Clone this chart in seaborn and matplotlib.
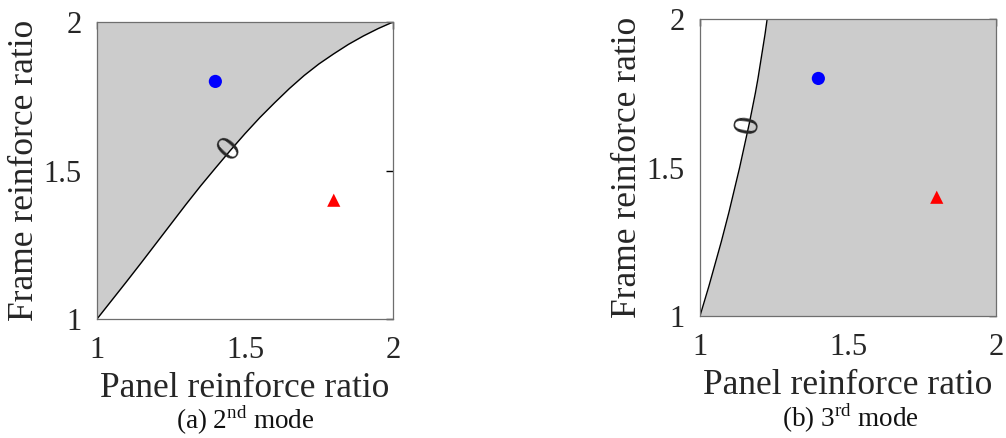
import numpy as np
import pandas as pd
import matplotlib
matplotlib.use("Agg")
import matplotlib.pyplot as plt
import seaborn as sns

# --- data ---
# (a) 2nd mode: boundary curve y(x), shaded above it
panel_a = [1.0, 1.05, 1.1, 1.15, 1.2, 1.25, 1.3, 1.35, 1.4, 1.45, 1.5,
           1.55, 1.6, 1.65, 1.7, 1.75, 1.8, 1.85, 1.9, 1.95, 2.0]
frame_a = [1.0, 1.063, 1.126, 1.19, 1.255, 1.32, 1.385, 1.448, 1.508, 1.567, 1.624,
           1.678, 1.728, 1.776, 1.82, 1.859, 1.893, 1.925, 1.953, 1.978, 2.0]

# (b) 3rd mode: boundary curve x(y), shaded to the right of it
frame_b = [1.0, 1.05, 1.1, 1.15, 1.2, 1.25, 1.3, 1.35, 1.4, 1.45, 1.5,
           1.55, 1.6, 1.65, 1.7, 1.75, 1.8, 1.85, 1.9, 1.95, 2.0]
panel_b = [1.0, 1.015, 1.030, 1.044, 1.058, 1.072, 1.085, 1.098, 1.110, 1.122, 1.134,
           1.145, 1.156, 1.167, 1.177, 1.187, 1.196, 1.204, 1.212, 1.220, 1.227]

# test points
circle_pt = (1.4, 1.8)
triangle_pt = (1.8, 1.4)

ticks = [1, 1.5, 2]
tick_labels = ["1", "1.5", "2"]

sns.set_style("white")
plt.rcParams['font.family'] = ['Liberation Serif', 'DejaVu Serif']
plt.rcParams['mathtext.fontset'] = 'custom'
plt.rcParams['mathtext.rm'] = 'Liberation Serif'

fig = plt.figure(figsize=(10.06, 4.38), dpi=100)
ax1 = fig.add_axes([0.0964, 0.2717, 0.2942, 0.678])
ax2 = fig.add_axes([0.6958, 0.2785, 0.2942, 0.678])

gray = '#cccccc'

# panel (a)
ax1.fill_between(panel_a, frame_a, 2, color=gray, lw=0)
sns.lineplot(x=panel_a, y=frame_a, ax=ax1, color='black', lw=1.0, sort=False)

# panel (b)
ax2.fill_betweenx(frame_b, panel_b, 2, color=gray, lw=0)
sns.lineplot(x=panel_b, y=frame_b, ax=ax2, color='black', lw=1.0, sort=False, orient='y')

for ax in (ax1, ax2):
    sns.scatterplot(x=[circle_pt[0]], y=[circle_pt[1]], ax=ax, color='blue',
                    marker='o', s=90, edgecolor='none', zorder=5)
    sns.scatterplot(x=[triangle_pt[0]], y=[triangle_pt[1]], ax=ax, color='red',
                    marker='^', s=90, edgecolor='none', zorder=5)
    ax.set_xlim(1, 2)
    ax.set_ylim(1, 2)
    ax.set_xticks(ticks)
    ax.set_yticks(ticks)
    ax.set_xticklabels(tick_labels)
    ax.set_yticklabels(tick_labels)
    ax.tick_params(direction='in', top=True, right=True, length=5, width=1,
                   labelsize=22, colors='black', labelcolor='#262626')
    ax.tick_params(axis='x', pad=12)
    ax.tick_params(axis='y', pad=11)
    for sp in ax.spines.values():
        sp.set_color('#6e6e6e')
        sp.set_linewidth(0.9)
    ax.set_xlabel('Panel reinforce ratio', fontsize=25.5, color='#262626', labelpad=5)
    ax.set_ylabel('Frame reinforce ratio', fontsize=25.5, color='#262626', labelpad=2)

# contour labels "0"
ax1.text(1.45, 1.57, '0', fontsize=26, rotation=48, ha='center', va='center', zorder=6)
ax2.text(1.166, 1.645, '0', fontsize=26, rotation=80, ha='center', va='center', zorder=6)

fig.text(0.2435, 0.002, r'(a) 2$^{\mathrm{nd}}$ mode', fontsize=19.5, ha='center',
         va='bottom', color='#111111')
fig.text(0.845, 0.006, r'(b) 3$^{\mathrm{rd}}$ mode', fontsize=19.5, ha='center',
         va='bottom', color='#111111')

fig.savefig('out.png', dpi=100)
